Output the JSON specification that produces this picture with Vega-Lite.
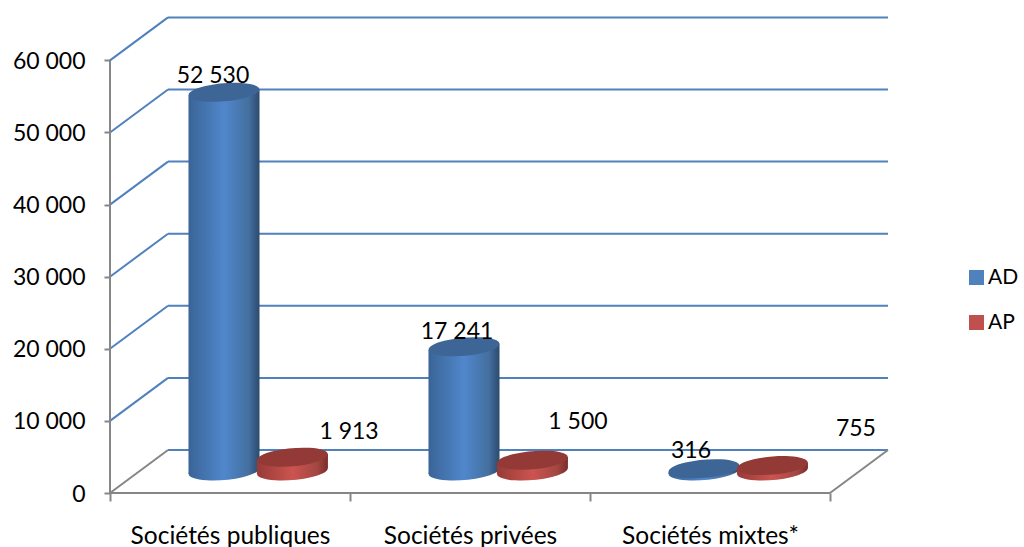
{"$schema":"https://vega.github.io/schema/vega-lite/v6.json","width":778,"height":476,"autosize":"none","padding":{"left":110,"top":17,"right":136,"bottom":54},"background":"white",
"config":{"font":"Lato","view":{"stroke":null}},
"datasets":{"bars":[{"category":"Sociétés publiques","series":"AD","value":52530},{"category":"Sociétés publiques","series":"AP","value":1913},{"category":"Sociétés privées","series":"AD","value":17241},{"category":"Sociétés privées","series":"AP","value":1500},{"category":"Sociétés mixtes*","series":"AD","value":316},{"category":"Sociétés mixtes*","series":"AP","value":755}],
"grid":[{"value":0},{"value":10000},{"value":20000},{"value":30000},{"value":40000},{"value":50000},{"value":60000}]},
"layer":[
{"data":{"name":"grid"},"transform":[{"calculate":"0.2417","as":"x"},{"calculate":"3.2417","as":"x2"},{"calculate":"datum.value+5964","as":"y"}],
"mark":{"type":"rule","color":"#4f81bd","strokeWidth":2},
"encoding":{"x":{"field":"x","type":"quantitative","title":null,"scale":{"domain":[0,3.2417],"nice":false,"zero":false},
"axis":{"values":[0,0.5,1,1.5,2,2.5,3],"domain":false,"grid":false,"tickSize":8,"tickWidth":2,"tickColor":"#868686","tickOpacity":{"condition":{"test":"datum.value % 1 == 0","value":1},"value":0},"labelExpr":"datum.value==0.5?'Sociétés publiques':datum.value==1.5?'Sociétés privées':datum.value==2.5?'Sociétés mixtes*':''","labelFontSize":24.5,"labelColor":"black","labelPadding":23,"labelLimit":400,"labelOverlap":false,"labelFlush":false,"labelBound":false}},
"x2":{"field":"x2"},
"y":{"field":"y","type":"quantitative","title":null,"scale":{"domain":[0,66019],"nice":false,"zero":false},
"axis":{"values":[0,10000,20000,30000,40000,50000,60000],"domain":false,"grid":false,"tickSize":6,"tickWidth":2,"tickColor":"#868686","labelExpr":"replace(format(datum.value,','),',',' ')","labelFontSize":23,"labelColor":"black","labelPadding":19,"labelOffset":1,"labelOverlap":false,"labelFlush":false,"labelBound":false}}}},
{"data":{"name":"grid"},"transform":[{"filter":"datum.value>0"},{"calculate":"0","as":"x"},{"calculate":"0.2417","as":"x2"},{"calculate":"datum.value+5964","as":"y2"}],
"mark":{"type":"rule","color":"#4f81bd","strokeWidth":2},
"encoding":{"x":{"field":"x","type":"quantitative","title":null},"x2":{"field":"x2"},"y":{"field":"value","type":"quantitative","title":null},"y2":{"field":"y2"}}},
{"data":{"name":"grid"},"transform":[{"filter":"datum.value==0"},{"calculate":"[0,0,3,0]","as":"xs"},{"calculate":"[0,3,3.2417,0.2417]","as":"xe"},{"calculate":"[0,0,0,0]","as":"ys"},{"calculate":"[60000,0,5964,5964]","as":"ye"},{"flatten":["xs","xe","ys","ye"]}],
"mark":{"type":"rule","color":"#868686","strokeWidth":2},
"encoding":{"x":{"field":"xs","type":"quantitative","title":null},"x2":{"field":"xe"},"y":{"field":"ys","type":"quantitative","title":null},"y2":{"field":"ye"}}},
{"data":{"name":"bars"},"transform":[{"filter":"datum.series=='AD'"},{"calculate":"indexof(['Sociétés publiques','Sociétés privées','Sociétés mixtes*'],datum.category)+0.475","as":"cx"},{"calculate":"3051","as":"base"},{"calculate":"3051+datum.value","as":"top"},{"calculate":"[datum.cx-0.148,datum.cx+0.148]","as":"ex"},{"calculate":"[datum.base-430,datum.base+430]","as":"eb"},{"calculate":"[datum.top-430,datum.top+430]","as":"et"}],
"layer":[
{"mark":{"type":"point","filled":true,"opacity":1,"size":5041,"fill":{"gradient":"linear","x1":0,"y1":0,"x2":1,"y2":0,"stops":[{"offset":0,"color":"#3a6496"},{"offset":0.5,"color":"#5087cc"},{"offset":0.85,"color":"#446f9f"},{"offset":1,"color":"#2c4a6d"}]},"shape":"M-0.996,0.087A1,0.25 -5 1,1 0.996,-0.087A1,0.25 -5 1,1 -0.996,0.087Z"},"encoding":{"x":{"field":"cx","type":"quantitative","title":null},"y":{"field":"base","type":"quantitative","title":null}}},
{"transform":[{"flatten":["ex","eb","et"]}],"mark":{"type":"area","orient":"vertical","interpolate":"linear","color":{"gradient":"linear","x1":0,"y1":0,"x2":1,"y2":0,"stops":[{"offset":0,"color":"#3a6496"},{"offset":0.5,"color":"#5087cc"},{"offset":0.85,"color":"#446f9f"},{"offset":1,"color":"#2c4a6d"}]}},"encoding":{"x":{"field":"ex","type":"quantitative","title":null},"y":{"field":"eb","type":"quantitative","title":null},"y2":{"field":"et"},"detail":{"field":"category"}}},
{"mark":{"type":"point","filled":true,"opacity":1,"size":5041,"fill":"#3d6595","shape":"M-0.996,0.087A1,0.25 -5 1,1 0.996,-0.087A1,0.25 -5 1,1 -0.996,0.087Z"},"encoding":{"x":{"field":"cx","type":"quantitative","title":null},"y":{"field":"top","type":"quantitative","title":null}}}
]},
{"data":{"name":"bars"},"transform":[{"filter":"datum.series=='AP'"},{"calculate":"indexof(['Sociétés publiques','Sociétés privées','Sociétés mixtes*'],datum.category)+0.76","as":"cx"},{"calculate":"3051","as":"base"},{"calculate":"3051+datum.value","as":"top"},{"calculate":"[datum.cx-0.148,datum.cx+0.148]","as":"ex"},{"calculate":"[datum.base-430,datum.base+430]","as":"eb"},{"calculate":"[datum.top-430,datum.top+430]","as":"et"}],
"layer":[
{"mark":{"type":"point","filled":true,"opacity":1,"size":5041,"shape":"M-0.996,0.087A1,0.25 -5 1,1 0.996,-0.087A1,0.25 -5 1,1 -0.996,0.087Z","fill":{"gradient":"linear","x1":0,"y1":0,"x2":1,"y2":0,"stops":[{"offset":0,"color":"#973a37"},{"offset":0.5,"color":"#cb5450"},{"offset":0.85,"color":"#a44642"},{"offset":1,"color":"#7a2c2a"}]}},"encoding":{"x":{"field":"cx","type":"quantitative","title":null},"y":{"field":"base","type":"quantitative","title":null}}},
{"transform":[{"flatten":["ex","eb","et"]}],"mark":{"type":"area","orient":"vertical","interpolate":"linear","color":{"gradient":"linear","x1":0,"y1":0,"x2":1,"y2":0,"stops":[{"offset":0,"color":"#973a37"},{"offset":0.5,"color":"#cb5450"},{"offset":0.85,"color":"#a44642"},{"offset":1,"color":"#7a2c2a"}]}},"encoding":{"x":{"field":"ex","type":"quantitative","title":null},"y":{"field":"eb","type":"quantitative","title":null},"y2":{"field":"et"},"detail":{"field":"category"}}},
{"mark":{"type":"point","filled":true,"opacity":1,"size":5041,"fill":"#933a37","shape":"M-0.996,0.087A1,0.25 -5 1,1 0.996,-0.087A1,0.25 -5 1,1 -0.996,0.087Z"},"encoding":{"x":{"field":"cx","type":"quantitative","title":null},"y":{"field":"top","type":"quantitative","title":null}}}
]},
{"data":{"name":"bars"},"transform":[{"calculate":"{'Sociétés publiques|AD':[0.429,57975],'Sociétés publiques|AP':[0.996,8599],'Sociétés privées|AD':[1.446,22469],'Sociétés privées|AP':[1.95,9986],'Sociétés mixtes*|AD':[2.421,5964],'Sociétés mixtes*|AP':[3.108,9015]}[datum.category+'|'+datum.series]","as":"pos"},{"calculate":"datum.pos[0]","as":"lx"},{"calculate":"datum.pos[1]","as":"ly"},{"calculate":"replace(format(datum.value,','),',',' ')","as":"label"}],
"mark":{"type":"text","fontSize":23,"color":"black","align":"center","baseline":"middle","dy":1},
"encoding":{"x":{"field":"lx","type":"quantitative","title":null},"y":{"field":"ly","type":"quantitative","title":null},"text":{"field":"label"}}},
{"data":{"name":"bars"},"mark":{"type":"point","filled":true,"opacity":0,"size":1},
"encoding":{"x":{"datum":0,"type":"quantitative","title":null},"y":{"datum":0,"type":"quantitative","title":null},"color":{"field":"series","type":"nominal","scale":{"domain":["AD","AP"],"range":["#4f81bd","#c0504d"]},"legend":{"title":null,"orient":"none","legendX":856,"legendY":250,"symbolType":"square","symbolSize":225,"symbolOpacity":1,"symbolStrokeWidth":0,"labelFontSize":21,"labelColor":"black","labelOffset":1,"rowPadding":23}}}}
]}
